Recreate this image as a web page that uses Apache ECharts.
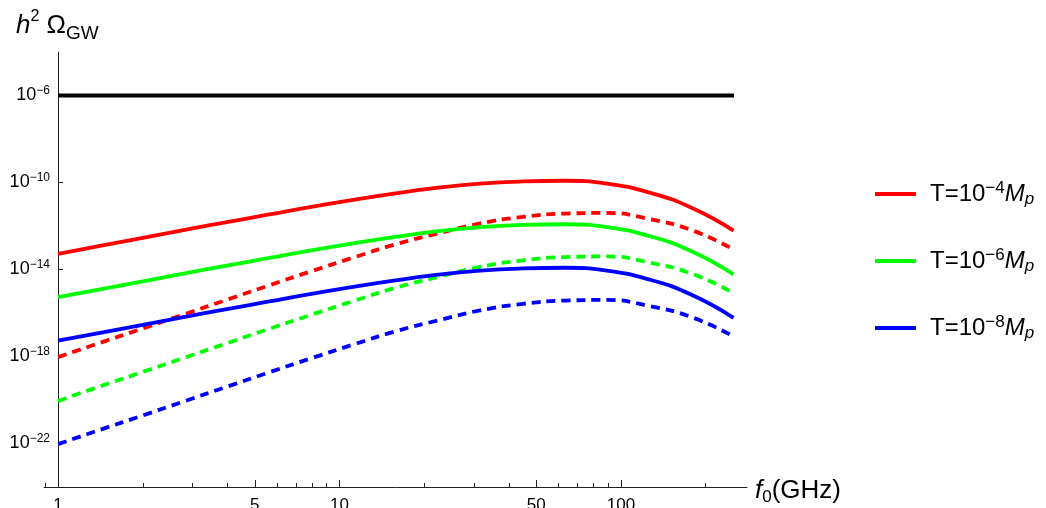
<!DOCTYPE html>
<html><head><meta charset="utf-8">
<script src="https://cdn.jsdelivr.net/npm/echarts@6/dist/echarts.min.js"></script>
<style>html,body{margin:0;padding:0;background:#fff}#c{width:1046px;height:508px}</style>
</head><body><div id="c"></div>
<script>
// Frequencies (GHz) at which the curves were read (evenly spaced on the log axis)
const freqsGHz = [1, 1.41, 2.0, 2.82, 3.98, 5.62, 7.94, 11.2, 15.8, 22.4, 31.6, 44.7, 63.1, 89.1, 126, 178, 251];
// log10(h^2 Omega_GW)
const redSolidExp    = [-13.28,-12.91,-12.55,-12.18,-11.82,-11.47,-11.12,-10.80,-10.50,-10.24,-10.05,-9.95,-9.92,-10.05,-10.46,-11.16,-12.21];
const greenSolidExp  = [-15.27,-14.91,-14.55,-14.18,-13.82,-13.47,-13.12,-12.80,-12.50,-12.24,-12.05,-11.95,-11.92,-12.05,-12.46,-13.16,-14.22];
const blueSolidExp   = [-17.27,-16.91,-16.55,-16.18,-15.82,-15.47,-15.12,-14.80,-14.50,-14.24,-14.05,-13.95,-13.92,-14.05,-14.46,-15.16,-16.22];
const redDashedExp   = [-18.03,-17.37,-16.71,-16.05,-15.39,-14.73,-14.08,-13.45,-12.84,-12.34,-11.88,-11.58,-11.43,-11.40,-11.68,-12.19,-13.08];
const greenDashedExp = [-20.05,-19.37,-18.71,-18.05,-17.39,-16.73,-16.08,-15.45,-14.84,-14.34,-13.88,-13.58,-13.43,-13.40,-13.68,-14.19,-15.08];
const blueDashedExp  = [-22.03,-21.37,-20.71,-20.05,-19.39,-18.73,-18.08,-17.45,-16.84,-16.34,-15.88,-15.58,-15.43,-15.40,-15.68,-16.19,-17.08];
// Horizontal black reference line
const blackLineFreqs = [1, 252];
const blackLineExp = [-6, -6];
// Tick values
const yTickExps = [-22, -18, -14, -10, -6];
const xMajorTicks = [1, 5, 10, 50, 100];
const xMinorTicks = [0.9, 2, 3, 4, 6, 7, 8, 9, 20, 30, 40, 60, 70, 80, 90, 200];
// Legend entries: [series id, exponent of T]
const legendEntries = [['T4', '4'], ['T6', '6'], ['T8', '8']];

const FONT = '"Liberation Sans", Arial, sans-serif';
const lg = Math.log10;
const pts = (fs, es) => fs.map((f, i) => [lg(f), es[i]]);
const labelOf = {};
legendEntries.forEach(([id, e]) => { labelOf[id] = '{a|T=10}{s|\u2212' + e + '}{m|M}{p|p}'; });

const solid = (name, color, exps) => ({
  name, type: 'line', data: pts(freqsGHz, exps), smooth: 0.5, symbol: 'none',
  lineStyle: { color, width: 3.8 }, itemStyle: { color }, z: 3
});
const dashed = (name, color, exps) => ({
  name, type: 'line', data: pts(freqsGHz, exps), smooth: 0.5, symbol: 'none',
  lineStyle: { color, width: 3.8, type: [9, 6] }, itemStyle: { color }, z: 2
});

const X_MIN = -0.05, X_MAX = 2.4476;
const chart = echarts.init(document.getElementById('c'), null, { renderer: 'canvas' });
chart.setOption({
  animation: false,
  backgroundColor: '#fff',
  grid: { left: 44, right: 299, top: 52, bottom: 21, containLabel: false, outerBoundsMode: 'none' },
  graphic: [{
    type: 'text', left: 16, top: 9,
    style: {
      text: '{i|h}{s|2}{n| \u03A9}{b|GW}',
      rich: {
        i: { fontFamily: FONT, fontSize: 26, fontStyle: 'italic', lineHeight: 34, verticalAlign: 'middle', fill: '#000' },
        s: { fontFamily: FONT, fontSize: 16, lineHeight: 22, verticalAlign: 'top', fill: '#000' },
        n: { fontFamily: FONT, fontSize: 26, lineHeight: 34, verticalAlign: 'middle', fill: '#000' },
        b: { fontFamily: FONT, fontSize: 19, lineHeight: 20, verticalAlign: 'bottom', fill: '#000' }
      }
    }
  }],
  legend: {
    orient: 'vertical', left: 875, top: 180, padding: 0, itemGap: 39, itemWidth: 41, itemHeight: 4,
    icon: 'rect', data: legendEntries.map(e => e[0]),
    formatter: n => labelOf[n],
    textStyle: {
      padding: [0, 0, 0, 9],
      rich: {
        a: { fontFamily: FONT, fontSize: 24, lineHeight: 28, verticalAlign: 'middle', color: '#000' },
        s: { fontFamily: FONT, fontSize: 17, lineHeight: 17, verticalAlign: 'top', color: '#000' },
        m: { fontFamily: FONT, fontSize: 24, fontStyle: 'italic', lineHeight: 28, verticalAlign: 'middle', color: '#000' },
        p: { fontFamily: FONT, fontSize: 17, fontStyle: 'italic', lineHeight: 16, verticalAlign: 'bottom', color: '#000' }
      }
    }
  },
  xAxis: [{
    type: 'value', min: X_MIN, max: X_MAX, position: 'bottom',
    axisLine: { onZero: false, lineStyle: { color: '#222', width: 1 } },
    axisTick: { inside: true, length: 7, customValues: xMajorTicks.map(lg), lineStyle: { color: '#222' } },
    axisLabel: {
      customValues: xMajorTicks.map(lg), margin: 10,
      formatter: v => String(Math.round(Math.pow(10, v))),
      fontFamily: FONT, fontSize: 17, color: '#000', lineHeight: 17
    },
    splitLine: { show: false },
    name: '{f|f}{z|0}{g|(GHz)}', nameLocation: 'end', nameGap: 8,
    nameTextStyle: {
      padding: [8, 0, 0, 0],
      rich: {
        f: { fontFamily: FONT, fontSize: 26, fontStyle: 'italic', lineHeight: 30, verticalAlign: 'middle', color: '#000' },
        z: { fontFamily: FONT, fontSize: 17, lineHeight: 18, verticalAlign: 'bottom', color: '#000' },
        g: { fontFamily: FONT, fontSize: 26, lineHeight: 30, verticalAlign: 'middle', color: '#000' }
      }
    }
  }, {
    type: 'value', min: X_MIN, max: X_MAX, position: 'bottom',
    axisLine: { show: false, onZero: false },
    axisTick: { inside: true, length: 4, customValues: xMinorTicks.map(lg), lineStyle: { color: '#222' } },
    axisLabel: { show: false },
    splitLine: { show: false }
  }],
  yAxis: {
    type: 'value', min: -24, max: -4, position: 'left', offset: -14,
    axisLine: { show: true, onZero: false, lineStyle: { color: '#222', width: 1 } },
    axisTick: { inside: true, length: 5, customValues: yTickExps, lineStyle: { color: '#222' } },
    axisLabel: {
      customValues: yTickExps, margin: 8,
      formatter: v => '{b|10}{s|\u2212' + Math.abs(v) + '}',
      rich: {
        b: { fontFamily: FONT, fontSize: 18, lineHeight: 22, verticalAlign: 'middle', color: '#000' },
        s: { fontFamily: FONT, fontSize: 12, lineHeight: 13, verticalAlign: 'top', color: '#000' }
      }
    },
    splitLine: { show: false }
  },
  series: [
    { name: 'ref', type: 'line', data: pts(blackLineFreqs, blackLineExp), symbol: 'none',
      lineStyle: { color: '#000', width: 4 }, itemStyle: { color: '#000' }, z: 4 },
    dashed('DR', '#ff0000', redDashedExp),
    dashed('DG', '#00ff00', greenDashedExp),
    dashed('DB', '#0000ff', blueDashedExp),
    solid('T4', '#ff0000', redSolidExp),
    solid('T6', '#00ff00', greenSolidExp),
    solid('T8', '#0000ff', blueSolidExp)
  ]
});
</script>
</body></html>
